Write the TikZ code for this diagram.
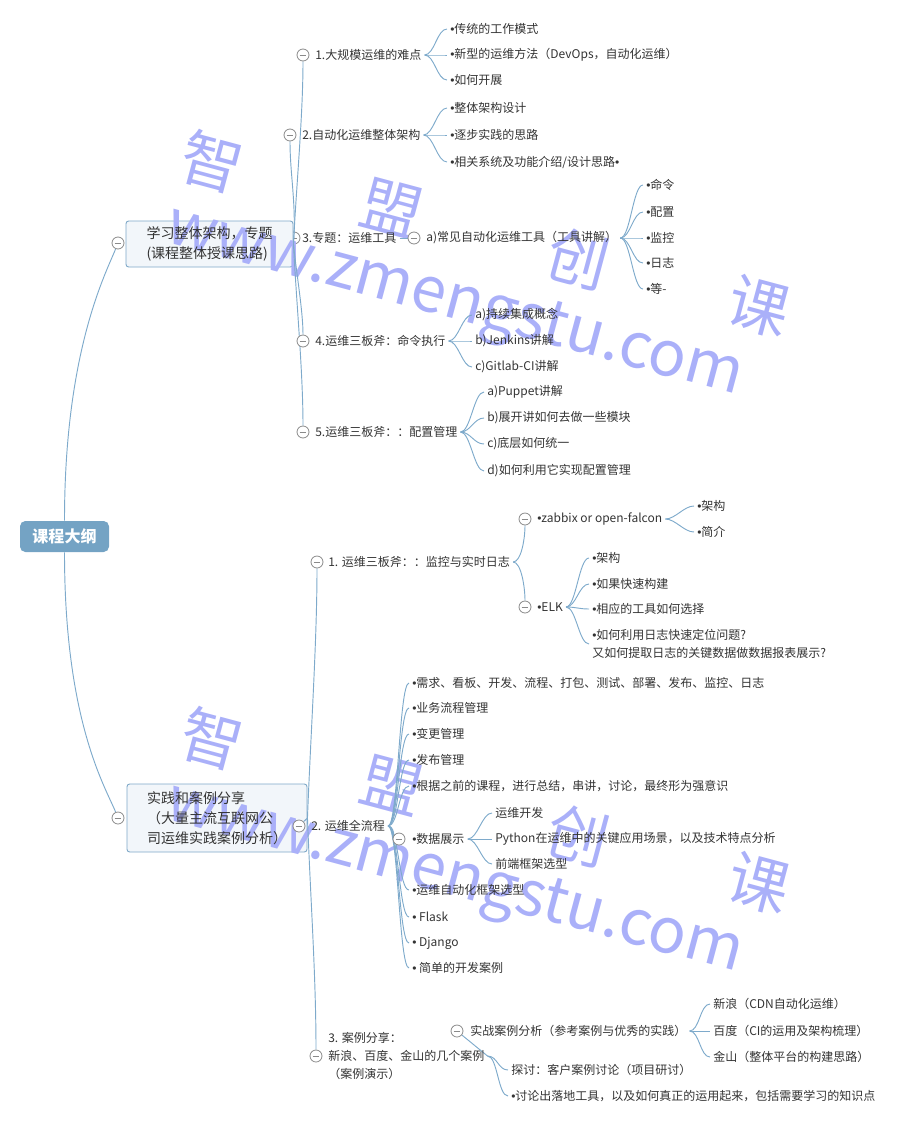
\documentclass[tikz,border=0pt]{standalone}
\usepackage{fontspec}
\setmainfont{Noto Sans CJK SC}
\newfontfamily\latinf{Liberation Sans}
\definecolor{lc}{HTML}{7EAACB}
\definecolor{rootc}{HTML}{74A3C4}
\definecolor{boxf}{HTML}{F2F6FA}
\definecolor{boxd}{HTML}{7EA8C8}
\definecolor{cg}{HTML}{8A8A8A}
\definecolor{tc}{HTML}{333333}
\definecolor{wm}{HTML}{AAB0F9}
\pgfdeclarelayer{boxl}
\pgfdeclarelayer{wml}
\pgfdeclarelayer{bg}
\pgfsetlayers{boxl,wml,bg,main}
\newcommand{\bu}{{\latinf •}}
\newcommand{\brc}[2]{\draw[conn] (#1.east) .. controls +(10,0) and +(-10,0) .. (#2.west);}
\tikzset{
  conn/.style={draw=lc, line width=0.7pt},
  cc/.style={circle, draw=cg, fill=white, line width=0.6pt, minimum size=9pt, inner sep=0pt,
    path picture={\draw[cg, line width=0.6pt] ([xshift=-2.6pt]path picture bounding box.center) -- ([xshift=2.6pt]path picture bounding box.center);}},
  txt/.style={anchor=west, inner xsep=2.25pt, inner ysep=1pt, text=tc, font=\fontsize{9}{13.5}\selectfont, align=left},
  bbox/.style={draw=boxd, fill=boxf, rounded corners=2pt, line width=0.7pt, inner sep=0pt},
  btxt/.style={text=tc, font=\fontsize{10.5}{15}\selectfont, align=left, inner sep=0pt},
  rootbox/.style={fill=rootc, rounded corners=4pt, text=white, font=\fontsize{12}{14}\selectfont\bfseries, minimum width=66.75pt, minimum height=23.25pt, inner sep=0pt},
  wmk/.style={rotate=-15, inner sep=0pt, text=wm},
  wmc/.style={wmk, font=\fontsize{46}{46}\selectfont},
  wmu/.style={wmk, anchor=base west, font=\fontsize{47}{47}\selectfont},
}
\begin{document}
\begin{tikzpicture}[x=0.75pt,y=-0.75pt]
\useasboundingbox (0,0) rectangle (905,1125);
% boxes
\begin{pgfonlayer}{boxl}
\node[cc] (c13) at (294,238) {};
\node[bbox, minimum width=125.25pt, minimum height=34.5pt] (b1) at (209.5,244) {};
\node[bbox, minimum width=135pt, minimum height=51pt] (b2) at (217,818) {};
\end{pgfonlayer}
\node[btxt] (b1t) at (b1.center) {学习整体架构，专题\\(课程整体授课思路)};
\node[btxt] (b2t) at (b2.center) {实践和案例分享\\（大量主流互联网公\\司运维实践案例分析）};
% root
\node[rootbox] (root) at (64.5,536.5) {课程大纲};
% branch 1
\node[cc] (cb1) at (118,243) {};
\node[cc] (c11) at (303,55) {};
\node[txt] (t11) at (312,55) {1.大规模运维的难点};
\node[cc] (c12) at (290,135) {};
\node[txt] (t12) at (299,135) {2.自动化运维整体架构};
\node[txt] (t13) at (299,238) {3.专题：运维工具};
\node[cc] (c14) at (303,341) {};
\node[txt] (t14) at (312,341) {4.运维三板斧：命令执行};
\node[cc] (c15) at (303,432) {};
\node[txt] (t15) at (312,432) {5.运维三板斧：：配置管理};
\node[txt] (l111) at (447,29) {\bu 传统的工作模式};
\node[txt] (l112) at (447,55) {\bu 新型的运维方法（DevOps，自动化运维）};
\node[txt] (l113) at (447,80) {\bu 如何开展};
\node[txt] (l121) at (447,108) {\bu 整体架构设计};
\node[txt] (l122) at (447,135) {\bu 逐步实践的思路};
\node[txt] (l123) at (447,162) {\bu 相关系统及功能介绍/设计思路\bu};
\node[cc] (ca) at (414,238) {};
\node[txt] (ta) at (423,238) {a)常见自动化运维工具（工具讲解）};
\node[txt] (la1) at (643,185) {\bu 命令};
\node[txt] (la2) at (643,212) {\bu 配置};
\node[txt] (la3) at (643,238) {\bu 监控};
\node[txt] (la4) at (643,263) {\bu 日志};
\node[txt] (la5) at (643,289) {\bu 等-};
\node[txt] (l141) at (472,315) {a)持续集成概念};
\node[txt] (l142) at (472,341) {b)Jenkins讲解};
\node[txt] (l143) at (472,367) {c)Gitlab-CI讲解};
\node[txt] (l151) at (484,392) {a)Puppet讲解};
\node[txt] (l152) at (484,418) {b)展开讲如何去做一些模块};
\node[txt] (l153) at (484,444) {c)底层如何统一};
\node[txt] (l154) at (484,471) {d)如何利用它实现配置管理};
% branch 2
\node[cc] (cb2) at (118,818) {};
\node[cc] (c21) at (317,562) {};
\node[txt] (t21) at (325,562) {1. 运维三板斧：：监控与实时日志};
\node[cc] (cz) at (525,519) {};
\node[txt] (tz) at (534,519) {\bu zabbix or open-falcon};
\node[txt] (lz1) at (694,506) {\bu 架构};
\node[txt] (lz2) at (694,532) {\bu 简介};
\node[cc] (ce) at (525,607) {};
\node[txt] (te) at (534,607) {\bu ELK};
\node[txt] (le1) at (589,558) {\bu 架构};
\node[txt] (le2) at (589,584) {\bu 如果快速构建};
\node[txt] (le3) at (589,609) {\bu 相应的工具如何选择};
\node[txt] (le4) at (589,644) {\bu 如何利用日志快速定位问题?\\又如何提取日志的关键数据做数据报表展示?};
\node[cc] (c22) at (299,826) {};
\node[txt] (t22) at (308,826) {2. 运维全流程};
\node[txt] (l221) at (409,683) {\bu 需求、看板、开发、流程、打包、测试、部署、发布、监控、日志};
\node[txt] (l222) at (409,708) {\bu 业务流程管理};
\node[txt] (l223) at (409,734) {\bu 变更管理};
\node[txt] (l224) at (409,760) {\bu 发布管理};
\node[txt] (l225) at (409,786) {\bu 根据之前的课程，进行总结，串讲，讨论，最终形为强意识};
\node[cc] (cd) at (399,839) {};
\node[txt] (td) at (409,839) {\bu 数据展示};
\node[txt] (ld1) at (492,813) {运维开发};
\node[txt] (ld2) at (492,839) {Python在运维中的关键应用场景，以及技术特点分析};
\node[txt] (ld3) at (492,864) {前端框架选型};
\node[txt] (l226) at (409,890) {\bu 运维自动化框架选型};
\node[txt] (l227) at (409,917) {\bu\ Flask};
\node[txt] (l228) at (409,943) {\bu\ Django};
\node[txt] (l229) at (409,968) {\bu\ 简单的开发案例};
\node[cc] (c23) at (316,1056) {};
\node[txt] (t23) at (325,1056) {3. 案例分享：\\新浪、百度、金山的几个案例\\（案例演示）};
\node[cc] (cs) at (457,1031) {};
\node[txt] (ts) at (467,1031) {实战案例分析（参考案例与优秀的实践）};
\node[txt] (ls1) at (710,1004) {新浪（CDN自动化运维）};
\node[txt] (ls2) at (710,1031) {百度（CI的运用及架构梳理）};
\node[txt] (ls3) at (710,1057) {金山（整体平台的构建思路）};
\node[txt] (l232) at (508,1070) {探讨：客户案例讨论（项目研讨）};
\node[txt] (l233) at (508,1096) {\bu 讨论出落地工具，以及如何真正的运用起来，包括需要学习的知识点};
% connectors
\begin{pgfonlayer}{bg}
\draw[conn] (root.north) .. controls +(0,-170) and +(-12,30) .. (cb1);
\draw[conn] (root.south) .. controls +(0,170) and +(-12,-30) .. (cb2);
\draw[conn] (b1.east) .. controls +(3,-60) and +(0,60) .. (c11);
\draw[conn] (b1.east) .. controls +(3,-40) and +(0,40) .. (c12);
\draw[conn] (b1.east) -- (c13);
\draw[conn] (b1.east) .. controls +(3,30) and +(0,-30) .. (c14);
\draw[conn] (b1.east) .. controls +(3,60) and +(0,-60) .. (c15);
\brc{t11}{l111}\brc{t11}{l112}\brc{t11}{l113}
\brc{t12}{l121}\brc{t12}{l122}\brc{t12}{l123}
\draw[conn] (t13.east) -- (ca);
\brc{ta}{la1}\brc{ta}{la2}\brc{ta}{la3}\brc{ta}{la4}\brc{ta}{la5}
\brc{t14}{l141}\brc{t14}{l142}\brc{t14}{l143}
\brc{t15}{l151}\brc{t15}{l152}\brc{t15}{l153}\brc{t15}{l154}
\draw[conn] (b2.east) .. controls +(3,-80) and +(0,80) .. (c21);
\draw[conn] (b2.east) -- (c22);
\draw[conn] (b2.east) .. controls +(3,80) and +(0,-80) .. (c23);
\draw[conn] (t21.east) .. controls +(8,0) and +(0,20) .. (cz);
\draw[conn] (t21.east) .. controls +(8,0) and +(0,-20) .. (ce);
\brc{tz}{lz1}\brc{tz}{lz2}
\brc{te}{le1}\brc{te}{le2}\brc{te}{le3}\brc{te}{le4}
\brc{t22}{l221}\brc{t22}{l222}\brc{t22}{l223}\brc{t22}{l224}\brc{t22}{l225}
\draw[conn] (t22.east) .. controls +(6,0) and +(-4,0) .. (cd);
\brc{t22}{l226}\brc{t22}{l227}\brc{t22}{l228}\brc{t22}{l229}
\brc{td}{ld1}\brc{td}{ld2}\brc{td}{ld3}
\draw[conn] (t23.east) -- (cs);
\brc{ts}{ls1}\brc{ts}{ls2}\brc{ts}{ls3}
\brc{t23}{l232}\brc{t23}{l233}
\end{pgfonlayer}
% watermarks
\begin{pgfonlayer}{wml}
\node[wmc] (wza) at (212,162) {智};
\node[wmc] (wma) at (392,208) {盟};
\node[wmc] (wca) at (578,259) {创};
\node[wmc] (wka) at (759,306) {课};
\node[wmu] (wwa) at (163,241) {www.zmengstu.com};
\node[wmc] (wzb) at (212,739) {智};
\node[wmc] (wmb) at (392,785) {盟};
\node[wmc] (wcb) at (578,836) {创};
\node[wmc] (wkb) at (759,883) {课};
\node[wmu] (wwb) at (163,818) {www.zmengstu.com};
\end{pgfonlayer}
\end{tikzpicture}
\end{document}
